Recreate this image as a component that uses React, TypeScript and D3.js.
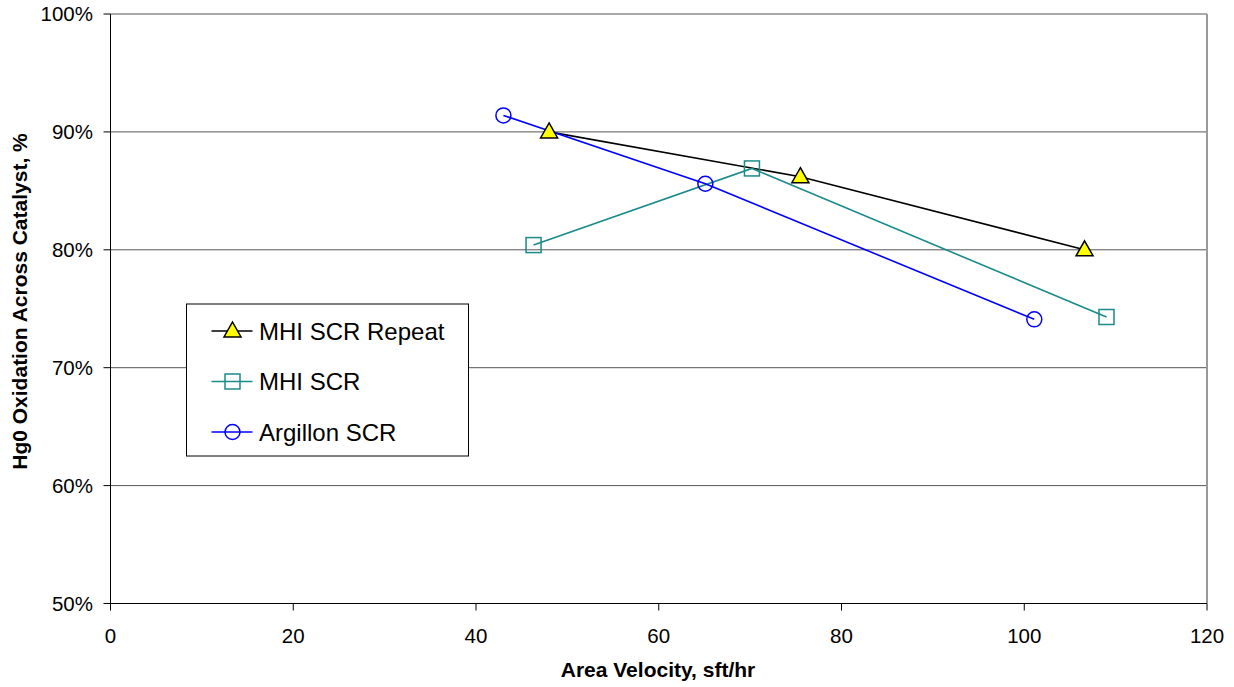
import React from "react";
import * as d3 from "d3";

const repeatX = [48.0, 75.5, 106.6];
const repeatY = [90.0, 86.2, 80.0];
const mhiX = [46.3, 70.2, 109.0];
const mhiY = [80.4, 86.9, 74.3];
const argX = [43.0, 65.1, 101.1];
const argY = [91.4, 85.6, 74.1];

const xTicks = [0, 20, 40, 60, 80, 100, 120];
const yTicks = [50, 60, 70, 80, 90, 100];

const W = 1234, H = 687;
const L = 110.5, R = 1207, T = 14, B = 603.5;

export default function App() {
  const x = d3.scaleLinear().domain([0, 120]).range([L, R]);
  const y = d3.scaleLinear().domain([50, 100]).range([B, T]);
  const line = d3.line<[number, number]>().x(d => x(d[0])).y(d => y(d[1]));
  const pts = (xs: number[], ys: number[]) => xs.map((v, i) => [v, ys[i]] as [number, number]);
  const font = "Arial, 'Liberation Sans', sans-serif";
  const tri = (cx: number, cy: number) => `M${cx},${cy - 9} L${cx + 8.5},${cy + 6} L${cx - 8.5},${cy + 6} Z`;

  const legendItems = [
    { label: "MHI SCR Repeat", color: "#000", kind: "tri" },
    { label: "MHI SCR", color: "#1a8a8a", kind: "sq" },
    { label: "Argillon SCR", color: "#0000ff", kind: "circ" },
  ];

  return (
    <svg width={W} height={H} style={{ position: "absolute", left: 0, top: 0, background: "#fff" }} fontFamily={font}>
      <rect x={0} y={0} width={W} height={H} fill="#fff" />
      {yTicks.filter(t => t > 50).map(t => (
        <line key={t} x1={L} x2={R} y1={y(t)} y2={y(t)} stroke="#555" strokeWidth={1} />
      ))}
      <line x1={R} x2={R} y1={T} y2={B} stroke="#999" strokeWidth={2} />
      <line x1={L} x2={L} y1={T} y2={B} stroke="#000" strokeWidth={1} />
      <line x1={L} x2={R} y1={B} y2={B} stroke="#000" strokeWidth={1} />
      {yTicks.map(t => (
        <g key={t}>
          <line x1={L - 7} x2={L} y1={y(t)} y2={y(t)} stroke="#000" />
          <text x={93} y={y(t)} dy="0.36em" textAnchor="end" fontSize={20.5}>{t}%</text>
        </g>
      ))}
      {xTicks.map(t => (
        <g key={t}>
          <line x1={x(t)} x2={x(t)} y1={B} y2={B + 7} stroke="#000" />
          <text x={x(t)} y={643} textAnchor="middle" fontSize={20.5}>{t}</text>
        </g>
      ))}
      <text x={658} y={677} textAnchor="middle" fontSize={21} fontWeight="bold">Area Velocity, sft/hr</text>
      <text transform="translate(26.5,301.5) rotate(-90)" textAnchor="middle" fontSize={21} fontWeight="bold">Hg0 Oxidation Across Catalyst, %</text>

      <path d={line(pts(repeatX, repeatY)) || ""} fill="none" stroke="#000" strokeWidth={1.6} />
      <path d={line(pts(mhiX, mhiY)) || ""} fill="none" stroke="#1a8a8a" strokeWidth={1.6} />
      <path d={line(pts(argX, argY)) || ""} fill="none" stroke="#0000ff" strokeWidth={1.6} />

      {pts(repeatX, repeatY).map((p, i) => (
        <path key={i} d={tri(x(p[0]), y(p[1]))} fill="#ffff00" stroke="#000" strokeWidth={1.5} />
      ))}
      {pts(mhiX, mhiY).map((p, i) => (
        <rect key={i} x={x(p[0]) - 7.5} y={y(p[1]) - 7.5} width={15} height={15} fill="none" stroke="#1a8a8a" strokeWidth={1.5} />
      ))}
      {pts(argX, argY).map((p, i) => (
        <circle key={i} cx={x(p[0])} cy={y(p[1])} r={7.5} fill="none" stroke="#0000ff" strokeWidth={1.5} />
      ))}

      <rect x={186.5} y={304} width={282} height={152} fill="#fff" stroke="#000" strokeWidth={1} />
      {legendItems.map((it, i) => {
        const cy = 331 + i * 50.5;
        const cx = 232.5;
        return (
          <g key={i}>
            <line x1={211.5} x2={252.5} y1={cy} y2={cy} stroke={it.color} strokeWidth={1.5} />
            {it.kind === "tri" && <path d={tri(cx, cy)} fill="#ffff00" stroke="#000" strokeWidth={1.5} />}
            {it.kind === "sq" && <rect x={cx - 7.5} y={cy - 7.5} width={15} height={15} fill="none" stroke={it.color} strokeWidth={1.5} />}
            {it.kind === "circ" && <circle cx={cx} cy={cy} r={7.5} fill="none" stroke={it.color} strokeWidth={1.5} />}
            <text x={259} y={cy} dy="0.36em" fontSize={24}>{it.label}</text>
          </g>
        );
      })}
    </svg>
  );
}
